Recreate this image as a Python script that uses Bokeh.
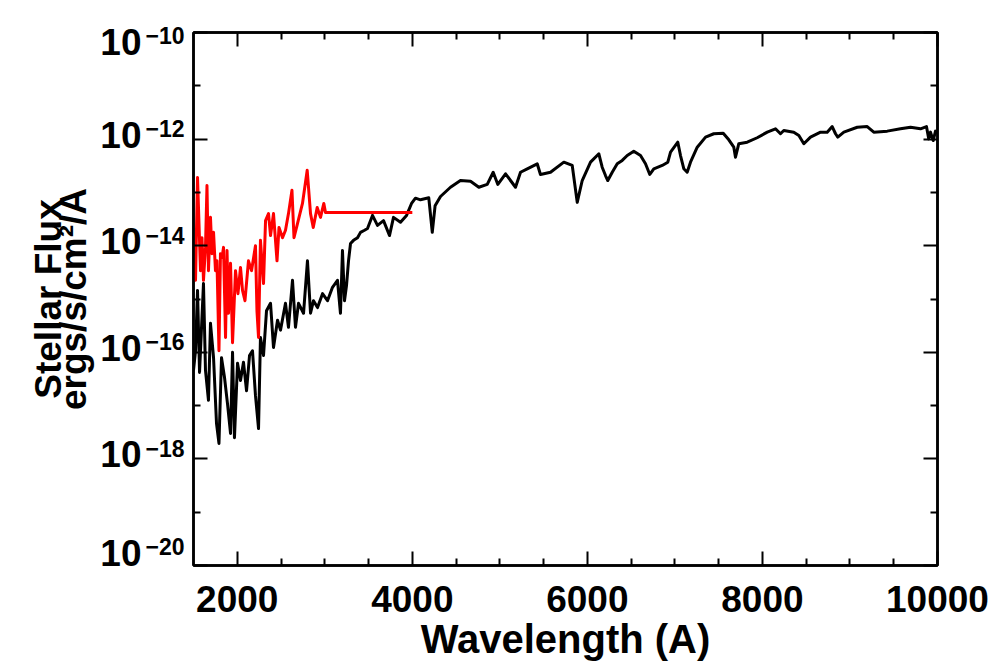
from bokeh.plotting import figure
from bokeh.models import Range1d, FixedTicker, LogAxis, LinearAxis, LogScale, CustomJSTickFormatter
from bokeh.embed import file_html
from bokeh.resources import INLINE

# ---- data ----
stellar_wavelength = [
    1500, 1523, 1546, 1569, 1614, 1637, 1671, 1694, 1729, 1763,
    1791, 1820, 1854, 1888, 1923, 1946, 1968, 2003, 2037, 2071,
    2106, 2140, 2174, 2208, 2243, 2265, 2300, 2334, 2380, 2414,
    2460, 2494, 2551, 2585, 2631, 2665, 2700, 2757, 2802, 2837,
    2871, 2917, 2974, 3031, 3088, 3145, 3179, 3202, 3225, 3248,
    3271, 3294, 3328, 3374, 3408, 3454, 3488, 3545, 3602, 3671,
    3739, 3785, 3865, 3934, 3991, 4036,
    4093, 4188, 4228, 4260, 4322, 4436, 4550, 4665, 4760, 4856,
    4924, 4977, 5065, 5179, 5236, 5313, 5427, 5464, 5579, 5731,
    5827, 5884, 5941, 6036, 6131, 6169, 6207, 6233, 6284, 6341,
    6398, 6455, 6530, 6607, 6664, 6713, 6759, 6855, 6919, 6950,
    7033, 7064, 7102, 7140, 7178, 7255, 7350, 7444, 7552, 7616,
    7673, 7692, 7730, 7826, 7940, 8055, 8149, 8206, 8244, 8358,
    8416, 8473, 8549, 8664, 8740, 8797, 8835, 8861, 8930, 9083,
    9197, 9272, 9426, 9577, 9692, 9806, 9874, 9900, 9920, 9951,
    9977, 10000,
]
stellar_flux = [
    4.6e-17, 1.07e-16, 1.45e-15, 4.2e-17, 1.95e-15, 4.6e-17, 1.26e-17, 3.5e-16, 7.9e-17, 4.6e-18,
    1.95e-18, 7.9e-17, 3.4e-17, 1.1e-17, 3.0e-18, 1.0e-16, 2.5e-18, 6.2e-17, 2.95e-17, 6.5e-17,
    1.9e-17, 8.7e-17, 1.07e-16, 1.55e-17, 3.7e-18, 1.9e-16, 8.7e-17, 6.0e-16, 8.3e-16, 1.23e-16,
    4.0e-16, 2.6e-16, 8.3e-16, 2.95e-16, 2.24e-15, 2.95e-16, 8.3e-16, 5.4e-16, 5.2e-15, 5.4e-16,
    9.3e-16, 6.9e-16, 1.26e-15, 9.3e-16, 1.66e-15, 2.24e-15, 5.4e-16, 8.1e-15, 9.3e-16, 1.78e-15,
    5.2e-15, 1.1e-14, 1.26e-14, 1.41e-14, 1.78e-14, 1.95e-14, 2.1e-14, 3.7e-14, 2.4e-14, 2.95e-14,
    1.55e-14, 3.4e-14, 2.75e-14, 3.7e-14, 6.2e-14, 7.8e-14,
    7.26e-14, 7.92e-14, 1.78e-14, 5.6e-14, 8.38e-14, 1.25e-13, 1.67e-13, 1.62e-13, 1.25e-13, 1.41e-13,
    2.39e-13, 1.41e-13, 2.23e-13, 1.25e-13, 2.39e-13, 2.77e-13, 3.44e-13, 2.17e-13, 2.39e-13, 3.69e-13,
    3.2e-13, 6.5e-14, 1.67e-13, 3.7e-13, 5.3e-13, 2.97e-13, 2.07e-13, 1.67e-13, 2.39e-13, 3.44e-13,
    3.98e-13, 4.92e-13, 5.93e-13, 4.92e-13, 3.44e-13, 2.17e-13, 2.77e-13, 3.2e-13, 3.69e-13, 5.68e-13,
    8.75e-13, 4.92e-13, 2.77e-13, 2.39e-13, 3.69e-13, 7.05e-13, 1.09e-12, 1.26e-12, 1.29e-12, 9.7e-13,
    7.05e-13, 4.57e-13, 8.2e-13, 8.75e-13, 1.06e-12, 1.35e-12, 1.56e-12, 1.26e-12, 1.45e-12, 1.35e-12,
    1.17e-12, 8.2e-13, 1.09e-12, 1.35e-12, 1.35e-12, 1.72e-12, 1.26e-12, 1.09e-12, 1.35e-12, 1.67e-12,
    1.72e-12, 1.35e-12, 1.41e-12, 1.56e-12, 1.67e-12, 1.56e-12, 1.72e-12, 1.01e-12, 1.35e-12, 9.4e-13,
    1.41e-12, 1.27e-12,
]

uv_wavelength = [
    1500, 1523, 1546, 1580, 1597, 1614, 1637, 1654, 1671, 1694,
    1711, 1729, 1751, 1768, 1791, 1808, 1826, 1843, 1866, 1883,
    1900, 1923, 1946, 1980, 2008, 2037, 2060, 2088, 2128, 2163,
    2208, 2225, 2243, 2265, 2300, 2323, 2357, 2380, 2414, 2454,
    2477, 2517, 2551, 2585, 2625, 2648, 2688, 2745, 2799, 2837,
    2868, 2913, 2951, 2989, 3008, 4000,
]
uv_flux = [
    4.8e-15, 2.24e-15, 1.9e-13, 3.4e-15, 1.41e-14, 2.24e-15, 9.3e-15, 1.35e-13, 3.4e-15, 3.4e-14,
    7.1e-15, 1.78e-14, 3.4e-15, 5.2e-15, 1.07e-16, 7.1e-15, 6.0e-15, 9.3e-15, 1.9e-16, 8.1e-15,
    5.4e-16, 4.7e-15, 1.51e-16, 3.4e-15, 1.26e-15, 3.9e-15, 1.45e-15, 9.3e-16, 5.2e-15, 3.4e-15,
    1.0e-14, 6.0e-16, 1.9e-16, 1.26e-14, 1.95e-15, 2.95e-14, 4.0e-14, 1.55e-14, 4.0e-14, 5.2e-15,
    2.2e-14, 1.41e-14, 1.95e-14, 4.0e-14, 1.1e-13, 1.41e-14, 2.6e-14, 6.2e-14, 2.6e-13, 4.0e-14,
    2.2e-14, 5.2e-14, 3.4e-14, 6.2e-14, 4.2e-14, 4.2e-14,
]

x_major_ticks = [2000, 4000, 6000, 8000, 10000]
x_minor_ticks = [2500, 3000, 3500, 4500, 5000, 5500, 6500, 7000, 7500, 8500, 9000, 9500]
y_label_exponents = [-20, -18, -16, -14, -12, -10]
y_minor_exponents = [-19, -17, -15, -13, -11]
x_axis_title = "Wavelength (A)"
y_axis_title = "Stellar Flux\nergs/s/cm\u00b2/A"

FONT = "Liberation Sans"
Y_LO, Y_HI = min(y_label_exponents), max(y_label_exponents)

p = figure(
    width=994, height=671,
    x_range=Range1d(1500, 10000), y_range=Range1d(10.0 ** Y_LO, 10.0 ** Y_HI),
    y_axis_type="log",
    output_backend="svg", toolbar_location=None,
    min_border_left=193, min_border_right=57, min_border_top=32, min_border_bottom=106,
)
p.grid.visible = False
p.outline_line_color = "black"
p.outline_line_width = 2.5
p.background_fill_color = "white"
p.border_fill_color = "white"

# label-only ranges, nudged (in decades) so the "10" and its raised exponent
# sit where the reference puts them relative to each tick
EXP_RAISE = 0.2
BASE_RAISE = 0.085
p.extra_y_ranges = {
    "exp": Range1d(10.0 ** (Y_LO - EXP_RAISE), 10.0 ** (Y_HI - EXP_RAISE)),
    "base": Range1d(10.0 ** (Y_LO - BASE_RAISE), 10.0 ** (Y_HI - BASE_RAISE)),
}
p.extra_y_scales = {"exp": LogScale(), "base": LogScale()}

# like the reference, the two end labels are pulled inside the frame
TOP_PULL, BOTTOM_PULL = 0.26, 0.15
label_positions = []
for e in y_label_exponents:
    if e == Y_HI:
        label_positions.append(10.0 ** (e - TOP_PULL))
    elif e == Y_LO:
        label_positions.append(10.0 ** (e + BOTTOM_PULL))
    else:
        label_positions.append(10.0 ** e)

x_ticker = FixedTicker(ticks=x_major_ticks, minor_ticks=x_minor_ticks)
y_ticker = FixedTicker(ticks=[10.0 ** e for e in y_label_exponents],
                       minor_ticks=[10.0 ** e for e in y_minor_exponents])
y_label_ticker = FixedTicker(ticks=label_positions, minor_ticks=[])
blank = CustomJSTickFormatter(code="return ''")
exponent_fmt = CustomJSTickFormatter(code="return '\u2212' + Math.round(-Math.log10(tick))")
base_fmt = CustomJSTickFormatter(code="return '10'")


def style_axis(ax):
    ax.axis_line_color = "black"
    ax.axis_line_width = 2.5
    ax.major_tick_in = 14
    ax.major_tick_out = 0
    ax.minor_tick_in = 7
    ax.minor_tick_out = 0
    ax.major_tick_line_width = 2
    ax.minor_tick_line_width = 2
    ax.major_tick_line_color = "black"
    ax.minor_tick_line_color = "black"


def label_only(ax):
    ax.axis_line_color = None
    ax.major_tick_line_color = None
    ax.minor_tick_line_color = None
    ax.major_tick_in = 0
    ax.major_tick_out = 0
    ax.minor_tick_in = 0
    ax.minor_tick_out = 0
    ax.major_label_text_font = FONT
    ax.major_label_text_font_style = "bold"
    ax.major_label_text_color = "black"


xa = p.xaxis[0]
xa.ticker = x_ticker
style_axis(xa)
xa.major_label_text_font = FONT
xa.major_label_text_font_size = "37px"
xa.major_label_text_font_style = "bold"
xa.major_label_text_color = "black"
xa.major_label_standoff = 20
xa.axis_label = x_axis_title
xa.axis_label_text_font = FONT
xa.axis_label_text_font_size = "40px"
xa.axis_label_text_font_style = "bold"
xa.axis_label_text_color = "black"
xa.axis_label_standoff = 2

# innermost left axis: frame line and ticks only
ya = p.yaxis[0]
ya.ticker = y_ticker
ya.formatter = blank
style_axis(ya)
ya.major_label_text_font_size = "0px"
ya.major_label_standoff = 0

# exponents
exp_axis = LogAxis(y_range_name="exp", ticker=y_label_ticker, formatter=exponent_fmt)
label_only(exp_axis)
exp_axis.major_label_text_font_size = "23px"
exp_axis.major_label_standoff = 9
p.add_layout(exp_axis, "left")

# "10" bases and the axis title
base_axis = LogAxis(y_range_name="base", ticker=y_label_ticker, formatter=base_fmt)
label_only(base_axis)
base_axis.major_label_text_font_size = "37px"
base_axis.major_label_standoff = 1
base_axis.axis_label = y_axis_title
base_axis.axis_label_text_font = FONT
base_axis.axis_label_text_font_size = "37px"
base_axis.axis_label_text_font_style = "bold"
base_axis.axis_label_text_color = "black"
base_axis.axis_label_text_line_height = 0.62
base_axis.axis_label_standoff = 3
p.add_layout(base_axis, "left")

top_axis = LinearAxis(ticker=x_ticker, formatter=blank, major_label_text_font_size="0px")
style_axis(top_axis)
p.add_layout(top_axis, "above")
right_axis = LogAxis(ticker=y_ticker, formatter=blank, major_label_text_font_size="0px")
style_axis(right_axis)
p.add_layout(right_axis, "right")

# spectra
p.line(stellar_wavelength, stellar_flux, line_color="black", line_width=3, line_join="round")
p.line(uv_wavelength, uv_flux, line_color="#ff0000", line_width=3, line_join="round")

open("out.html", "w").write(file_html(p, INLINE))
